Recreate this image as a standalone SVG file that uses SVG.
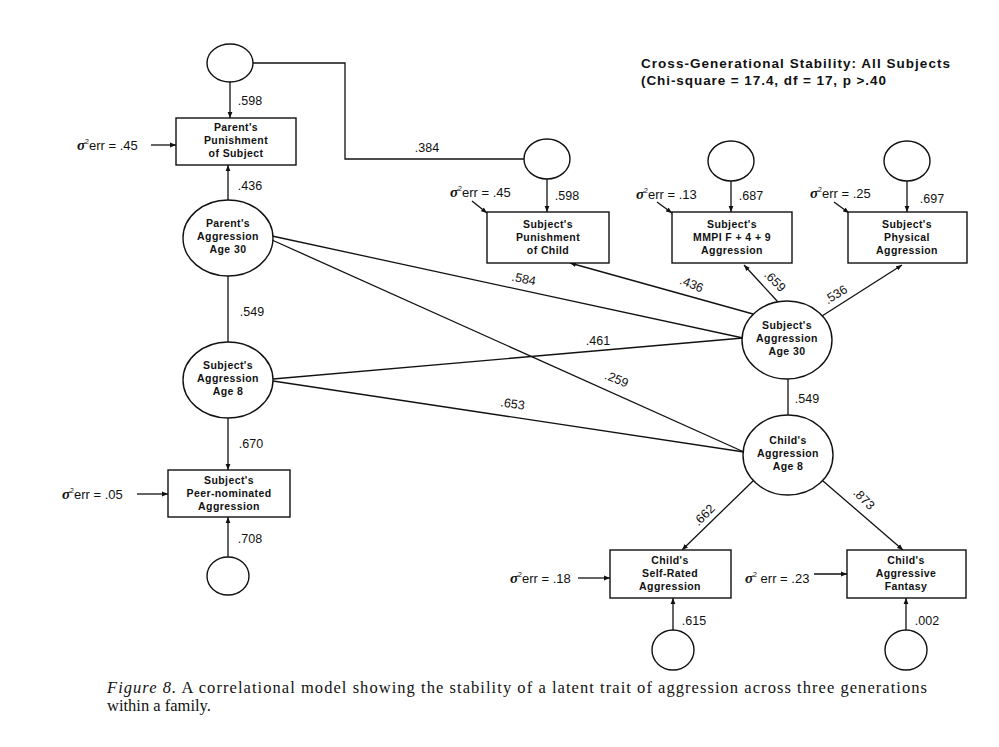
<svg xmlns="http://www.w3.org/2000/svg" width="999" height="747" viewBox="0 0 999 747">
<defs>
<marker id="ah" viewBox="0 0 10 10" refX="10" refY="5" markerWidth="6" markerHeight="6" orient="auto-start-reverse" markerUnits="userSpaceOnUse">
<path d="M0,1 L10,5 L0,9 z" fill="#111"/>
</marker>
<style>
.nd{fill:#fff;stroke:#111;stroke-width:1.4}
.nt{font-family:"Liberation Sans",Arial,sans-serif;font-weight:bold;font-size:10.5px;letter-spacing:0.4px;fill:#111;text-anchor:middle}
.lb{font-family:"Liberation Sans",Arial,sans-serif;font-size:12.5px;fill:#111;text-anchor:middle}
.er{font-family:"Liberation Sans",Arial,sans-serif;font-size:13px;fill:#111}
.sg{font-family:"Liberation Serif","Times New Roman",serif;font-style:italic;font-weight:bold;font-size:15px}
.ln{stroke:#111;stroke-width:1.3;fill:none}
.ar{stroke:#111;stroke-width:1.3;fill:none;marker-end:url(#ah)}
.ti{font-family:"Liberation Sans",Arial,sans-serif;font-weight:bold;font-size:13.5px;fill:#111}
.cap{font-family:"Liberation Serif","Times New Roman",serif;font-size:16.5px;fill:#111}
</style>
</defs>
<rect width="999" height="747" fill="#fff"/>

<g id="title">
<text class="ti" x="641" y="68" textLength="309" lengthAdjust="spacing">Cross-Generational Stability: All Subjects</text>
<text class="ti" x="641" y="85" textLength="245" lengthAdjust="spacing">(Chi-square = 17.4, df = 17, p &gt;.40</text>
</g>

<g id="connectors">
<line class="ar" x1="230" y1="82" x2="230" y2="118"/>
<polyline class="ln" points="253,63 345,63 345,159 524,159"/>
<line class="ar" x1="151" y1="145" x2="176" y2="145"/>
<line class="ar" x1="228" y1="200" x2="228" y2="165"/>
<line class="ln" x1="228" y1="276" x2="228" y2="342"/>
<line class="ar" x1="228" y1="418" x2="228" y2="470"/>
<line class="ar" x1="137" y1="494" x2="168" y2="494"/>
<line class="ar" x1="228" y1="557" x2="228" y2="517"/>
<line class="ln" x1="272" y1="236" x2="743" y2="338"/>
<line class="ln" x1="272" y1="240" x2="744" y2="452"/>
<line class="ln" x1="273" y1="379" x2="743" y2="338"/>
<line class="ln" x1="273" y1="381" x2="744" y2="452"/>
<line class="ar" x1="547" y1="179" x2="547" y2="212"/>
<line class="ar" x1="731" y1="181" x2="731" y2="212"/>
<line class="ar" x1="907" y1="181" x2="907" y2="212"/>
<line class="ar" x1="472" y1="201" x2="487" y2="213"/>
<line class="ar" x1="657" y1="202" x2="672" y2="213"/>
<line class="ar" x1="834" y1="202" x2="849" y2="213"/>
<line class="ar" x1="753" y1="314" x2="570" y2="263"/>
<line class="ar" x1="778" y1="302" x2="744" y2="265"/>
<line class="ar" x1="822" y1="316" x2="902" y2="265"/>
<line class="ln" x1="788" y1="379" x2="788" y2="415"/>
<line class="ar" x1="753" y1="481" x2="682" y2="550"/>
<line class="ar" x1="823" y1="481" x2="903" y2="550"/>
<line class="ar" x1="578" y1="578" x2="610" y2="578"/>
<line class="ar" x1="814" y1="574" x2="847" y2="574"/>
<line class="ar" x1="673" y1="630" x2="673" y2="598"/>
<line class="ar" x1="906" y1="630" x2="906" y2="598"/>
</g>

<g id="labels">
<text class="lb" x="250" y="105">.598</text>
<text class="lb" x="427" y="152">.384</text>
<text class="er" x="77" y="150"><tspan class="sg">σ</tspan><tspan dy="-6" font-size="7">2</tspan><tspan dy="6">err = .45</tspan></text>
<text class="lb" x="250" y="190">.436</text>
<text class="lb" x="252" y="316">.549</text>
<text class="lb" x="251" y="448">.670</text>
<text class="er" x="62" y="499"><tspan class="sg">σ</tspan><tspan dy="-6" font-size="7">2</tspan><tspan dy="6">err = .05</tspan></text>
<text class="lb" x="250" y="543">.708</text>
<text class="lb" transform="translate(523,283) rotate(12)">.584</text>
<text class="lb" transform="translate(615,383) rotate(22)">.259</text>
<text class="lb" x="598" y="345">.461</text>
<text class="lb" transform="translate(512,408) rotate(8)">.653</text>
<text class="er" x="450" y="197"><tspan class="sg">σ</tspan><tspan dy="-6" font-size="7">2</tspan><tspan dy="6">err = .45</tspan></text>
<text class="lb" x="567" y="200">.598</text>
<text class="er" x="636" y="199"><tspan class="sg">σ</tspan><tspan dy="-6" font-size="7">2</tspan><tspan dy="6">err = .13</tspan></text>
<text class="lb" x="751" y="200">.687</text>
<text class="er" x="810" y="198"><tspan class="sg">σ</tspan><tspan dy="-6" font-size="7">2</tspan><tspan dy="6">err = .25</tspan></text>
<text class="lb" x="932" y="203">.697</text>
<text class="lb" transform="translate(690,288) rotate(22)">.436</text>
<text class="lb" transform="translate(772,284) rotate(45)">.659</text>
<text class="lb" transform="translate(838,298) rotate(-32)">.536</text>
<text class="lb" x="807" y="403">.549</text>
<text class="lb" transform="translate(707,518) rotate(-45)">.662</text>
<text class="lb" transform="translate(861,502) rotate(45)">.873</text>
<text class="er" x="510" y="583"><tspan class="sg">σ</tspan><tspan dy="-6" font-size="7">2</tspan><tspan dy="6">err = .18</tspan></text>
<text class="er" x="745" y="583"><tspan class="sg">σ</tspan><tspan dy="-6" font-size="7">2</tspan><tspan dy="6"> err = .23</tspan></text>
<text class="lb" x="694" y="625">.615</text>
<text class="lb" x="927" y="625">.002</text>
</g>

<g id="e-parent-punish"><ellipse class="nd" cx="230" cy="63" rx="23" ry="19"/></g>
<g id="parent-punishment">
<rect class="nd" x="176" y="118" width="120" height="47"/>
<text class="nt" x="236" y="131">Parent's</text>
<text class="nt" x="236" y="144">Punishment</text>
<text class="nt" x="236" y="157">of Subject</text>
</g>
<g id="parent-aggression">
<ellipse class="nd" cx="228" cy="238" rx="45" ry="38"/>
<text class="nt" x="228" y="227">Parent's</text>
<text class="nt" x="228" y="240">Aggression</text>
<text class="nt" x="228" y="253">Age 30</text>
</g>
<g id="subject-aggression-8">
<ellipse class="nd" cx="228" cy="380" rx="45" ry="38"/>
<text class="nt" x="228" y="369">Subject's</text>
<text class="nt" x="228" y="382">Aggression</text>
<text class="nt" x="228" y="395">Age 8</text>
</g>
<g id="peer-nominated">
<rect class="nd" x="168" y="470" width="122" height="47"/>
<text class="nt" x="229" y="484">Subject's</text>
<text class="nt" x="229" y="497">Peer-nominated</text>
<text class="nt" x="229" y="510">Aggression</text>
</g>
<g id="e-peer"><ellipse class="nd" cx="228" cy="576" rx="21" ry="19"/></g>

<g id="e-subj-punish"><ellipse class="nd" cx="547" cy="159" rx="23" ry="20"/></g>
<g id="subject-punishment">
<rect class="nd" x="487" y="212" width="122" height="51"/>
<text class="nt" x="548" y="228">Subject's</text>
<text class="nt" x="548" y="241">Punishment</text>
<text class="nt" x="548" y="254">of Child</text>
</g>
<g id="e-mmpi"><ellipse class="nd" cx="731" cy="161" rx="23" ry="20"/></g>
<g id="mmpi">
<rect class="nd" x="672" y="212" width="120" height="51"/>
<text class="nt" x="732" y="228">Subject's</text>
<text class="nt" x="732" y="241">MMPI F + 4 + 9</text>
<text class="nt" x="732" y="254">Aggression</text>
</g>
<g id="e-physical"><ellipse class="nd" cx="907" cy="161" rx="23" ry="20"/></g>
<g id="physical">
<rect class="nd" x="848" y="212" width="119" height="51"/>
<text class="nt" x="907" y="228">Subject's</text>
<text class="nt" x="907" y="241">Physical</text>
<text class="nt" x="907" y="254">Aggression</text>
</g>
<g id="subject-aggression-30">
<ellipse class="nd" cx="787" cy="340" rx="45" ry="39"/>
<text class="nt" x="787" y="329">Subject's</text>
<text class="nt" x="787" y="342">Aggression</text>
<text class="nt" x="787" y="355">Age 30</text>
</g>
<g id="child-aggression-8">
<ellipse class="nd" cx="788" cy="455" rx="45" ry="40"/>
<text class="nt" x="788" y="444">Child's</text>
<text class="nt" x="788" y="457">Aggression</text>
<text class="nt" x="788" y="470">Age 8</text>
</g>
<g id="self-rated">
<rect class="nd" x="610" y="550" width="121" height="48"/>
<text class="nt" x="670" y="564">Child's</text>
<text class="nt" x="670" y="577">Self-Rated</text>
<text class="nt" x="670" y="590">Aggression</text>
</g>
<g id="fantasy">
<rect class="nd" x="847" y="550" width="119" height="48"/>
<text class="nt" x="906" y="564">Child's</text>
<text class="nt" x="906" y="577">Aggressive</text>
<text class="nt" x="906" y="590">Fantasy</text>
</g>
<g id="e-self"><ellipse class="nd" cx="673" cy="650" rx="21" ry="20"/></g>
<g id="e-fantasy"><ellipse class="nd" cx="906" cy="650" rx="21" ry="20"/></g>

<g id="caption">
<text class="cap" x="107" y="693" textLength="820" lengthAdjust="spacing"><tspan font-style="italic">Figure 8.</tspan> A correlational model showing the stability of a latent trait of aggression across three generations</text>
<text class="cap" x="107" y="711">within a family.</text>
</g>
</svg>
